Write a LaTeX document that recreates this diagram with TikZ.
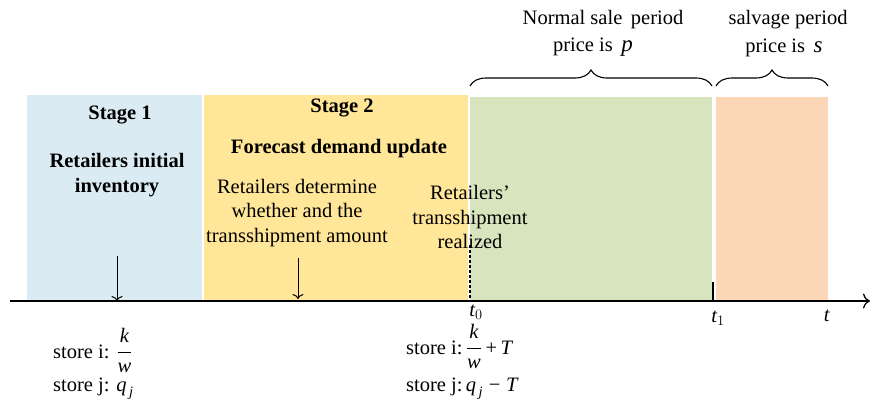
\documentclass[tikz,border=0pt]{standalone}
\usepackage{amsmath}
\usepackage{fontspec}
\setmainfont{Liberation Serif}
\usetikzlibrary{decorations.pathreplacing,arrows.meta}
\definecolor{cblue}{RGB}{218,235,243}
\definecolor{cyellow}{RGB}{255,230,153}
\definecolor{cgreen}{RGB}{215,228,189}
\definecolor{corange}{RGB}{251,214,183}
\newcommand\vi[1]{\text{\itshape #1}}
\newcommand\kw{\dfrac{\vi{k}\rule[-7pt]{0pt}{7pt}}{\rule{0pt}{17pt}\vi{w}}}
\begin{document}
\begin{tikzpicture}[x=1pt,y=-1pt,
  lbl/.style={font=\fontsize{20.5}{24.5}\selectfont, align=center, inner sep=0pt},
  blbl/.style={font=\fontsize{20.5}{24.5}\selectfont\bfseries, align=center, inner sep=0pt},
  axisline/.style={line width=1.3pt, -{To[length=7pt,width=15pt,line width=1.3pt]}},
  evarrow/.style={line width=1pt, -{To[length=5pt,width=11pt]}},
  bracestyle/.style={line width=1.1pt, decorate, decoration={brace, amplitude=16pt, aspect=0.5}}]
\useasboundingbox (0,0) rectangle (875,402);
% stage backgrounds
\fill[cblue] (27,95) rectangle (202,300);
\fill[cyellow] (204,95) rectangle (468,300);
\fill[cgreen] (470,97) rectangle (712,300);
\fill[corange] (716,97) rectangle (828,300);
% axis
\coordinate (a0) at (10,301);
\coordinate (a1) at (870,301);
\draw[axisline] (a0) -- (a1);
% dashed and tick
\coordinate (d0) at (470,245);
\coordinate (d1) at (470,301);
\draw[line width=1.3pt, dash pattern=on 3pt off 2pt] (d0) -- (d1);
\coordinate (k0) at (713,282);
\coordinate (k1) at (713,301);
\draw[line width=1.1pt] (k0) -- (k1);
% event arrows
\coordinate (e1a) at (117,256);
\coordinate (e1b) at (117,301);
\draw[evarrow] (e1a) -- (e1b);
\coordinate (e2a) at (298,258);
\coordinate (e2b) at (298,299);
\draw[evarrow] (e2a) -- (e2b);
% braces
\coordinate (b1a) at (470,86);
\coordinate (b1b) at (712,86);
\draw[bracestyle] (b1a) -- (b1b);
\coordinate (b2a) at (716,86);
\coordinate (b2b) at (828,86);
\draw[bracestyle] (b2a) -- (b2b);
% texts
\node[lbl] (normal) at (603,20) {Normal sale\, period};
\node[lbl] (pricep) at (593,47) {price is \,\textit{\fontsize{23}{24}\selectfont p}};
\node[lbl] (salv) at (788,20) {salvage period};
\node[lbl] (prices) at (784,48) {price is \,\textit{\fontsize{23}{24}\selectfont s}};
\node[blbl] (s1) at (120,115) {Stage 1};
\node[blbl] (s1t) at (117,175) {Retailers initial\\inventory};
\node[blbl] (s2) at (342,108) {Stage 2};
\node[blbl] (s2t) at (339,149) {Forecast demand update};
\node[lbl] (det) at (297,213) {Retailers determine\\whether and the\\transshipment amount};
\node[lbl] (real) at (470,217) {Retailers'\\transshipment\\realized};
\node[lbl] (t0) at (476,312) {$\vi{t}_{0}$};
\node[lbl] (t1) at (718,318) {$\vi{t}_{1}$};
\node[lbl] (t) at (827,316) {\textit{t}};
\node[lbl, anchor=base west] (si1) at (53,358) {store i: $\kw$};
\node[lbl, anchor=base west] (sj1) at (53,391) {store j: $\vi{q}_{\,\vi{j}}$};
\node[lbl, anchor=base west] (si2) at (406,354) {store i:\,$\kw\,\text{+}\,\vi{T}$};
\node[lbl, anchor=base west] (sj2) at (406,391) {store j:\,$\vi{q}_{\,\vi{j}}\;\text{−}\;\vi{T}$};
\end{tikzpicture}
\end{document}
